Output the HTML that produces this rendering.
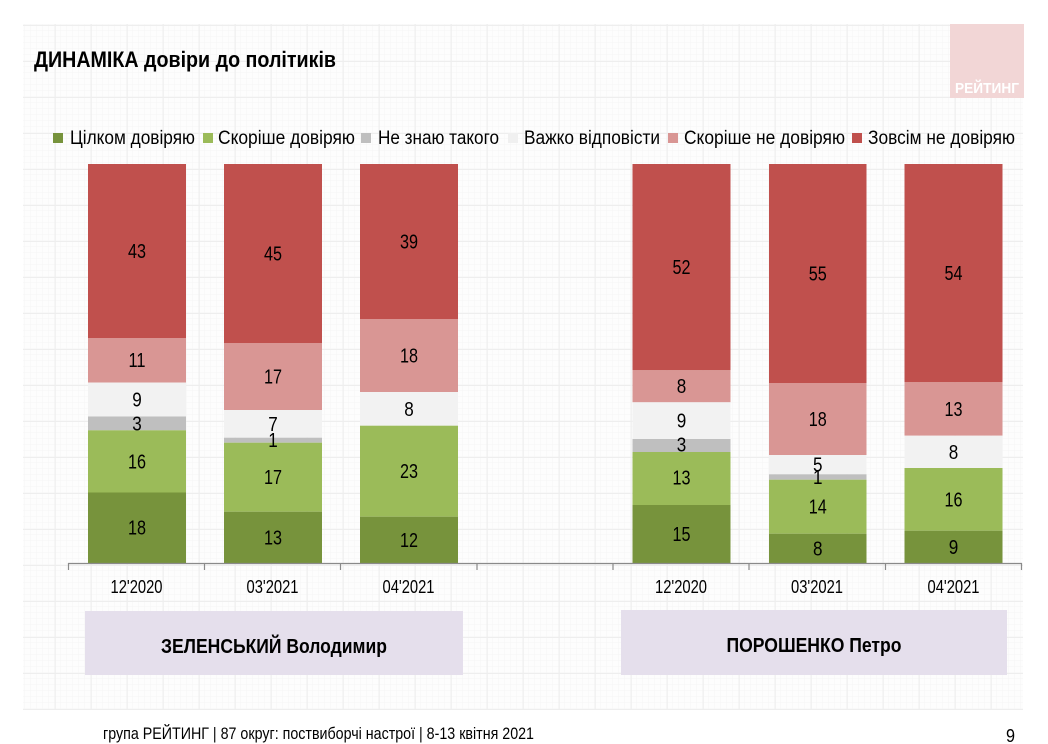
<!DOCTYPE html>
<html>
<head>
<meta charset="utf-8">
<style>
  html,body{margin:0;padding:0;background:#ffffff;}
  body{width:1048px;height:744px;overflow:hidden;}
  svg{display:block;}
  text{font-family:"Liberation Sans", Arial, "Noto Sans CJK SC", sans-serif;fill:#000;}
</style>
</head>
<body>
<svg width="1048" height="744" viewBox="0 0 1048 744" xmlns="http://www.w3.org/2000/svg">
  <defs>
    <pattern id="minor" x="0.7" y="1" width="6" height="6" patternUnits="userSpaceOnUse">
      <path d="M6 0 V6 M0 6 H6" stroke="#f5f5f5" stroke-width="1" fill="none"/>
    </pattern>
    <pattern id="major" x="18.7" y="25" width="36" height="36" patternUnits="userSpaceOnUse">
      <path d="M0.5 0 V36 M0 0.5 H36" stroke="#eeeeee" stroke-width="1" fill="none"/>
    </pattern>
  </defs>

  <!-- background -->
  <rect x="0" y="0" width="1048" height="744" fill="#ffffff"/>
  <rect x="23" y="24" width="1000" height="686" fill="#fdfdfd"/>
  <rect x="23" y="24" width="1000" height="686" fill="url(#minor)"/>
  <rect x="23" y="24" width="1000" height="686" fill="url(#major)"/>

  <!-- logo -->
  <rect x="950" y="24" width="74" height="74" fill="#f2d6d6"/>
  <text x="987" y="93" font-size="15" font-weight="bold" text-anchor="middle" style="fill:#ffffff" textLength="64" lengthAdjust="spacingAndGlyphs">РЕЙТИНГ</text>

  <!-- title -->
  <text x="34" y="67" font-size="22" font-weight="bold" textLength="302" lengthAdjust="spacingAndGlyphs">ДИНАМІКА довіри до політиків</text>

  <!-- legend -->
  <g font-size="19">
    <rect x="53" y="133" width="10" height="10" fill="#77933c"/>
    <text x="70" y="144" textLength="125" lengthAdjust="spacingAndGlyphs">Цілком довіряю</text>
    <rect x="203" y="133" width="10" height="10" fill="#9bbb59"/>
    <text x="218" y="144" textLength="137" lengthAdjust="spacingAndGlyphs">Скоріше довіряю</text>
    <rect x="361" y="133" width="10" height="10" fill="#bfbfbf"/>
    <text x="378" y="144" textLength="121" lengthAdjust="spacingAndGlyphs">Не знаю такого</text>
    <rect x="508" y="133" width="10" height="10" fill="#f0f0f0"/>
    <text x="524" y="144" textLength="136" lengthAdjust="spacingAndGlyphs">Важко відповісти</text>
    <rect x="668" y="133" width="10" height="10" fill="#d99694"/>
    <text x="684" y="144" textLength="161" lengthAdjust="spacingAndGlyphs">Скоріше не довіряю</text>
    <rect x="852" y="133" width="10" height="10" fill="#c0504d"/>
    <text x="868" y="144" textLength="147" lengthAdjust="spacingAndGlyphs">Зовсім не довіряю</text>
  </g>

  <!-- Bar 1 -->
  <g>
    <rect x="88" y="164" width="98" height="174" fill="#c0504d"/>
    <rect x="88" y="338" width="98" height="44.5" fill="#d99694"/>
    <rect x="88" y="382.5" width="98" height="34" fill="#f2f2f2"/>
    <rect x="88" y="416.5" width="98" height="13.8" fill="#bfbfbf"/>
    <rect x="88" y="430.3" width="98" height="62.2" fill="#9bbb59"/>
    <rect x="88" y="492.5" width="98" height="70.5" fill="#77933c"/>
  </g>
  <!-- Bar 2 -->
  <g>
    <rect x="224" y="164" width="98" height="179" fill="#c0504d"/>
    <rect x="224" y="343" width="98" height="67" fill="#d99694"/>
    <rect x="224" y="410" width="98" height="27.7" fill="#f2f2f2"/>
    <rect x="224" y="437.7" width="98" height="5" fill="#bfbfbf"/>
    <rect x="224" y="442.7" width="98" height="69" fill="#9bbb59"/>
    <rect x="224" y="511.7" width="98" height="51.3" fill="#77933c"/>
  </g>
  <!-- Bar 3 -->
  <g>
    <rect x="360" y="164" width="98" height="155" fill="#c0504d"/>
    <rect x="360" y="319" width="98" height="73" fill="#d99694"/>
    <rect x="360" y="392" width="98" height="33.7" fill="#f2f2f2"/>
    <rect x="360" y="425.7" width="98" height="91" fill="#9bbb59"/>
    <rect x="360" y="516.7" width="98" height="46.3" fill="#77933c"/>
  </g>
  <!-- Bar 5 -->
  <g>
    <rect x="632.5" y="164" width="98" height="206.3" fill="#c0504d"/>
    <rect x="632.5" y="370.3" width="98" height="32" fill="#d99694"/>
    <rect x="632.5" y="402.3" width="98" height="36.7" fill="#f2f2f2"/>
    <rect x="632.5" y="439" width="98" height="13" fill="#bfbfbf"/>
    <rect x="632.5" y="452" width="98" height="53" fill="#9bbb59"/>
    <rect x="632.5" y="505" width="98" height="58" fill="#77933c"/>
  </g>
  <!-- Bar 6 -->
  <g>
    <rect x="769" y="164" width="97.5" height="219" fill="#c0504d"/>
    <rect x="769" y="383" width="97.5" height="72" fill="#d99694"/>
    <rect x="769" y="455" width="97.5" height="19.3" fill="#f2f2f2"/>
    <rect x="769" y="474.3" width="97.5" height="5.4" fill="#bfbfbf"/>
    <rect x="769" y="479.7" width="97.5" height="54" fill="#9bbb59"/>
    <rect x="769" y="533.7" width="97.5" height="29.3" fill="#77933c"/>
  </g>
  <!-- Bar 7 -->
  <g>
    <rect x="904.5" y="164" width="98" height="218.3" fill="#c0504d"/>
    <rect x="904.5" y="382.3" width="98" height="53.4" fill="#d99694"/>
    <rect x="904.5" y="435.7" width="98" height="32.3" fill="#f2f2f2"/>
    <rect x="904.5" y="468" width="98" height="62.7" fill="#9bbb59"/>
    <rect x="904.5" y="530.7" width="98" height="32.3" fill="#77933c"/>
  </g>

  <!-- value labels -->
  <g font-size="20" text-anchor="middle" lengthAdjust="spacingAndGlyphs">
    <text x="137" y="258" textLength="18" lengthAdjust="spacingAndGlyphs">43</text>
    <text x="137" y="367.2" textLength="17" lengthAdjust="spacingAndGlyphs">11</text>
    <text x="137" y="406.4" textLength="9.5" lengthAdjust="spacingAndGlyphs">9</text>
    <text x="137" y="430.3" textLength="9.5" lengthAdjust="spacingAndGlyphs">3</text>
    <text x="137" y="468.3" textLength="18" lengthAdjust="spacingAndGlyphs">16</text>
    <text x="137" y="534.7" textLength="18" lengthAdjust="spacingAndGlyphs">18</text>

    <text x="273" y="260.5" textLength="18" lengthAdjust="spacingAndGlyphs">45</text>
    <text x="273" y="383.5" textLength="18" lengthAdjust="spacingAndGlyphs">17</text>
    <text x="273" y="430.8" textLength="9.5" lengthAdjust="spacingAndGlyphs">7</text>
    <text x="273" y="447.1" textLength="9.5" lengthAdjust="spacingAndGlyphs">1</text>
    <text x="273" y="484.1" textLength="18" lengthAdjust="spacingAndGlyphs">17</text>
    <text x="273" y="544.3" textLength="18" lengthAdjust="spacingAndGlyphs">13</text>

    <text x="409" y="248.5" textLength="18" lengthAdjust="spacingAndGlyphs">39</text>
    <text x="409" y="362.4" textLength="18" lengthAdjust="spacingAndGlyphs">18</text>
    <text x="409" y="415.8" textLength="9.5" lengthAdjust="spacingAndGlyphs">8</text>
    <text x="409" y="478.1" textLength="18" lengthAdjust="spacingAndGlyphs">23</text>
    <text x="409" y="546.8" textLength="18" lengthAdjust="spacingAndGlyphs">12</text>

    <text x="681.5" y="274.1" textLength="18" lengthAdjust="spacingAndGlyphs">52</text>
    <text x="681.5" y="393.2" textLength="9.5" lengthAdjust="spacingAndGlyphs">8</text>
    <text x="681.5" y="427.6" textLength="9.5" lengthAdjust="spacingAndGlyphs">9</text>
    <text x="681.5" y="451.5" textLength="9.5" lengthAdjust="spacingAndGlyphs">3</text>
    <text x="681.5" y="484.5" textLength="18" lengthAdjust="spacingAndGlyphs">13</text>
    <text x="681.5" y="541" textLength="18" lengthAdjust="spacingAndGlyphs">15</text>

    <text x="817.7" y="280.5" textLength="18" lengthAdjust="spacingAndGlyphs">55</text>
    <text x="817.7" y="426" textLength="18" lengthAdjust="spacingAndGlyphs">18</text>
    <text x="817.7" y="471.5" textLength="9.5" lengthAdjust="spacingAndGlyphs">5</text>
    <text x="817.7" y="484" textLength="9.5" lengthAdjust="spacingAndGlyphs">1</text>
    <text x="817.7" y="513.7" textLength="18" lengthAdjust="spacingAndGlyphs">14</text>
    <text x="817.7" y="555.3" textLength="9.5" lengthAdjust="spacingAndGlyphs">8</text>

    <text x="953.5" y="280.1" textLength="18" lengthAdjust="spacingAndGlyphs">54</text>
    <text x="953.5" y="416" textLength="18" lengthAdjust="spacingAndGlyphs">13</text>
    <text x="953.5" y="458.8" textLength="9.5" lengthAdjust="spacingAndGlyphs">8</text>
    <text x="953.5" y="506.3" textLength="18" lengthAdjust="spacingAndGlyphs">16</text>
    <text x="953.5" y="553.8" textLength="9.5" lengthAdjust="spacingAndGlyphs">9</text>
  </g>

  <!-- axis -->
  <g stroke="#8a8a8a" stroke-width="1.2" fill="none">
    <path d="M68 563.5 H1022"/>
    <path d="M68.5 563 V570 M204.5 563 V570 M340.5 563 V570 M477 563 V570 M613 563 V570 M749 563 V570 M885.5 563 V570 M1021.5 563 V570"/>
  </g>

  <!-- category labels -->
  <g font-size="18.5" text-anchor="middle">
    <text x="136.5" y="593" textLength="52" lengthAdjust="spacingAndGlyphs">12'2020</text>
    <text x="272.5" y="593" textLength="52" lengthAdjust="spacingAndGlyphs">03'2021</text>
    <text x="408.5" y="593" textLength="52" lengthAdjust="spacingAndGlyphs">04'2021</text>
    <text x="681" y="593" textLength="52" lengthAdjust="spacingAndGlyphs">12'2020</text>
    <text x="817" y="593" textLength="52" lengthAdjust="spacingAndGlyphs">03'2021</text>
    <text x="953.5" y="593" textLength="52" lengthAdjust="spacingAndGlyphs">04'2021</text>
  </g>

  <!-- name boxes -->
  <rect x="85" y="611" width="378" height="64" fill="#e5dfec"/>
  <text x="274" y="653" font-size="20" font-weight="bold" text-anchor="middle" textLength="226" lengthAdjust="spacingAndGlyphs">ЗЕЛЕНСЬКИЙ Володимир</text>
  <rect x="621" y="610" width="386" height="65" fill="#e5dfec"/>
  <text x="814" y="652" font-size="20" font-weight="bold" text-anchor="middle" textLength="175" lengthAdjust="spacingAndGlyphs">ПОРОШЕНКО Петро</text>

  <!-- footer -->
  <text x="103" y="739" font-size="16.5" textLength="431" lengthAdjust="spacingAndGlyphs">група РЕЙТИНГ  | 87 округ: поствиборчі настрої | 8-13 квітня 2021</text>
  <text x="1010.5" y="742" font-size="18" text-anchor="middle" textLength="9" lengthAdjust="spacingAndGlyphs">9</text>
</svg>
</body>
</html>
